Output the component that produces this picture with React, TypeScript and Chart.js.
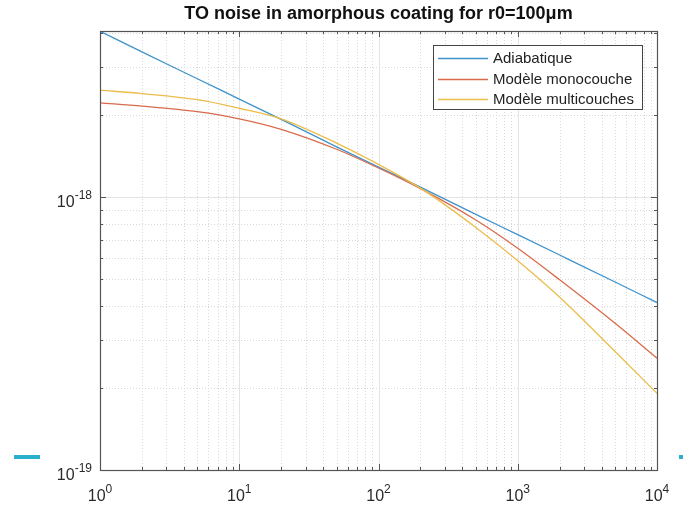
import React, { useEffect, useRef } from 'react';
import { Chart, registerables } from 'chart.js';

Chart.register(...registerables);

// ---- data ----
const frequencies = [1, 2, 5, 10, 20, 50, 100, 200, 500, 1000, 2000, 5000, 10000];
const adiabatique = [4.06e-18, 3.41e-18, 2.72e-18, 2.29e-18, 1.93e-18, 1.53e-18, 1.29e-18, 1.09e-18, 8.65e-19, 7.29e-19, 6.14e-19, 4.89e-19, 4.11e-19];
const monocouche = [2.22e-18, 2.16e-18, 2.06e-18, 1.94e-18, 1.775e-18, 1.5e-18, 1.28e-18, 1.075e-18, 8.25e-19, 6.5e-19, 4.98e-19, 3.45e-19, 2.57e-19];
const multicouches = [2.47e-18, 2.4e-18, 2.28e-18, 2.12e-18, 1.94e-18, 1.58e-18, 1.32e-18, 1.08e-18, 7.75e-19, 5.85e-19, 4.3e-19, 2.72e-19, 1.91e-19];
const seriesNames = ['Adiabatique', 'Modèle monocouche', 'Modèle multicouches'];
const seriesColors = ['#3f93cc', '#d96b4c', '#ebbd4a'];
const chartTitle = 'TO noise in amorphous coating for r0=100μm';
const xTickExponents = [0, 1, 2, 3, 4];
const yTickExponents = [-19, -18];
const xRange = [1, 10000];
const yRange = [1e-19, 4.07e-18];

const FONT = "'Liberation Sans', Arial, Helvetica, sans-serif";

const matlabPlugin = {
  id: 'matlabAxes',
  beforeDatasetsDraw(chart: any) {
    const { ctx, chartArea: a, scales } = chart;
    const xs = scales.x;
    const ys = scales.y;
    ctx.save();
    ctx.lineWidth = 1;
    for (let k = 0; k <= 4; k++) {
      for (let m = 1; m <= 9; m++) {
        const v = m * Math.pow(10, k);
        if (v > xRange[1] + 1e-9) break;
        const px = Math.round(xs.getPixelForValue(v)) + 0.5;
        if (px <= a.left + 1 || px >= a.right - 1) continue;
        ctx.beginPath();
        if (m === 1) {
          ctx.setLineDash([]);
          ctx.strokeStyle = '#e4e4e4';
        } else {
          ctx.setLineDash([1, 2]);
          ctx.strokeStyle = '#d9d9d9';
        }
        ctx.moveTo(px, a.top);
        ctx.lineTo(px, a.bottom);
        ctx.stroke();
      }
    }
    for (let k = -19; k <= -18; k++) {
      for (let m = 1; m <= 9; m++) {
        const v = m * Math.pow(10, k);
        if (v > yRange[1]) break;
        const py = Math.round(ys.getPixelForValue(v)) + 0.5;
        if (py <= a.top + 1 || py >= a.bottom - 1) continue;
        ctx.beginPath();
        if (m === 1) {
          ctx.setLineDash([]);
          ctx.strokeStyle = '#e4e4e4';
        } else {
          ctx.setLineDash([1, 2]);
          ctx.strokeStyle = '#d9d9d9';
        }
        ctx.moveTo(a.left, py);
        ctx.lineTo(a.right, py);
        ctx.stroke();
      }
    }
    ctx.restore();
  },
  afterDatasetsDraw(chart: any) {
    const { ctx, chartArea: a, scales } = chart;
    const xs = scales.x;
    const ys = scales.y;
    ctx.save();
    ctx.setLineDash([]);
    ctx.strokeStyle = '#555';
    ctx.lineWidth = 1;
    for (let k = 0; k <= 4; k++) {
      for (let m = 1; m <= 9; m++) {
        const v = m * Math.pow(10, k);
        if (v > xRange[1] + 1e-9) break;
        const px = Math.round(xs.getPixelForValue(v)) + 0.5;
        const len = m === 1 ? 6 : 3;
        ctx.beginPath();
        ctx.moveTo(px, a.bottom);
        ctx.lineTo(px, a.bottom - len);
        ctx.moveTo(px, a.top);
        ctx.lineTo(px, a.top + len);
        ctx.stroke();
      }
    }
    for (let k = -19; k <= -18; k++) {
      for (let m = 1; m <= 9; m++) {
        const v = m * Math.pow(10, k);
        if (v > yRange[1]) break;
        const py = Math.round(ys.getPixelForValue(v)) + 0.5;
        const len = m === 1 ? 6 : 3;
        ctx.beginPath();
        ctx.moveTo(a.left, py);
        ctx.lineTo(a.left + len, py);
        ctx.moveTo(a.right, py);
        ctx.lineTo(a.right - len, py);
        ctx.stroke();
      }
    }
    ctx.strokeStyle = '#555';
    ctx.lineWidth = 1.2;
    ctx.strokeRect(Math.round(a.left) + 0.5, Math.round(a.top) + 0.5, Math.round(a.right - a.left), Math.round(a.bottom - a.top));

    // tick labels
    ctx.fillStyle = '#2a2a2a';
    ctx.textBaseline = 'alphabetic';
    const bigFont = `16px ${FONT}`;
    const smallFont = `12px ${FONT}`;
    xTickExponents.forEach((e) => {
      const px = xs.getPixelForValue(Math.pow(10, e));
      ctx.font = bigFont;
      const w1 = ctx.measureText('10').width;
      ctx.font = smallFont;
      const w2 = ctx.measureText(String(e)).width;
      const x0 = px - (w1 + w2) / 2;
      ctx.textAlign = 'left';
      ctx.font = bigFont;
      ctx.fillText('10', x0, a.bottom + 31);
      ctx.font = smallFont;
      ctx.fillText(String(e), x0 + w1, a.bottom + 23);
    });
    yTickExponents.forEach((e) => {
      const py = ys.getPixelForValue(Math.pow(10, e));
      const right = a.left - 8;
      ctx.font = smallFont;
      const w2 = ctx.measureText(String(e)).width;
      ctx.font = bigFont;
      const w1 = ctx.measureText('10').width;
      ctx.textAlign = 'left';
      ctx.fillText('10', right - w2 - w1, py + 10);
      ctx.font = smallFont;
      ctx.fillText(String(e), right - w2, py + 1.5);
    });

    // title
    ctx.fillStyle = '#111';
    ctx.font = `bold 18px ${FONT}`;
    ctx.textAlign = 'center';
    ctx.fillText(chartTitle, (a.left + a.right) / 2, 19);

    // legend
    const lx0 = 433, ly0 = 45, lx1 = 642, ly1 = 109;
    ctx.fillStyle = '#fff';
    ctx.fillRect(lx0, ly0, lx1 - lx0, ly1 - ly0);
    ctx.strokeStyle = '#444';
    ctx.lineWidth = 1;
    ctx.strokeRect(lx0 + 0.5, ly0 + 0.5, lx1 - lx0, ly1 - ly0);
    ctx.font = `15px ${FONT}`;
    ctx.textAlign = 'left';
    ctx.textBaseline = 'middle';
    seriesNames.forEach((name, i) => {
      const cy = 58 + i * 20.5;
      ctx.strokeStyle = seriesColors[i];
      ctx.lineWidth = 1.3;
      ctx.beginPath();
      ctx.moveTo(438, Math.round(cy) + 0.5);
      ctx.lineTo(488, Math.round(cy) + 0.5);
      ctx.stroke();
      ctx.fillStyle = '#222';
      ctx.fillText(name, 493, cy + 1);
    });

    // stray slide marks at the bottom edges
    ctx.fillStyle = '#2ab0cc';
    ctx.fillRect(14, 455, 26, 4);
    ctx.fillRect(679, 455, 4, 4);
    ctx.restore();
  },
};

export default function App() {
  const canvasRef = useRef<HTMLCanvasElement | null>(null);

  useEffect(() => {
    const canvas = canvasRef.current;
    if (!canvas) return;
    const series = [adiabatique, monocouche, multicouches];
    const chart = new Chart(canvas, {
      type: 'line',
      data: {
        datasets: series.map((vals, i) => ({
          label: seriesNames[i],
          data: frequencies.map((f, j) => ({ x: f, y: vals[j] })),
          borderColor: seriesColors[i],
          backgroundColor: seriesColors[i],
          borderWidth: 1.3,
          pointRadius: 0,
          fill: false,
          cubicInterpolationMode: 'monotone' as const,
          order: 3 - i,
        })),
      },
      options: {
        animation: false,
        responsive: false,
        devicePixelRatio: 1,
        layout: { padding: { left: 100, top: 31, right: 26, bottom: 36 } },
        plugins: {
          legend: { display: false },
          title: { display: false },
          tooltip: { enabled: false },
        },
        scales: {
          x: { type: 'logarithmic', min: xRange[0], max: xRange[1], display: false },
          y: { type: 'logarithmic', min: yRange[0], max: yRange[1], display: false },
        },
      },
      plugins: [matlabPlugin],
    });
    return () => chart.destroy();
  }, []);

  return (
    <div style={{ position: 'absolute', left: 0, top: 0, width: 683, height: 506, background: '#fff' }}>
      <canvas ref={canvasRef} width={683} height={506} style={{ display: 'block' }} />
    </div>
  );
}
